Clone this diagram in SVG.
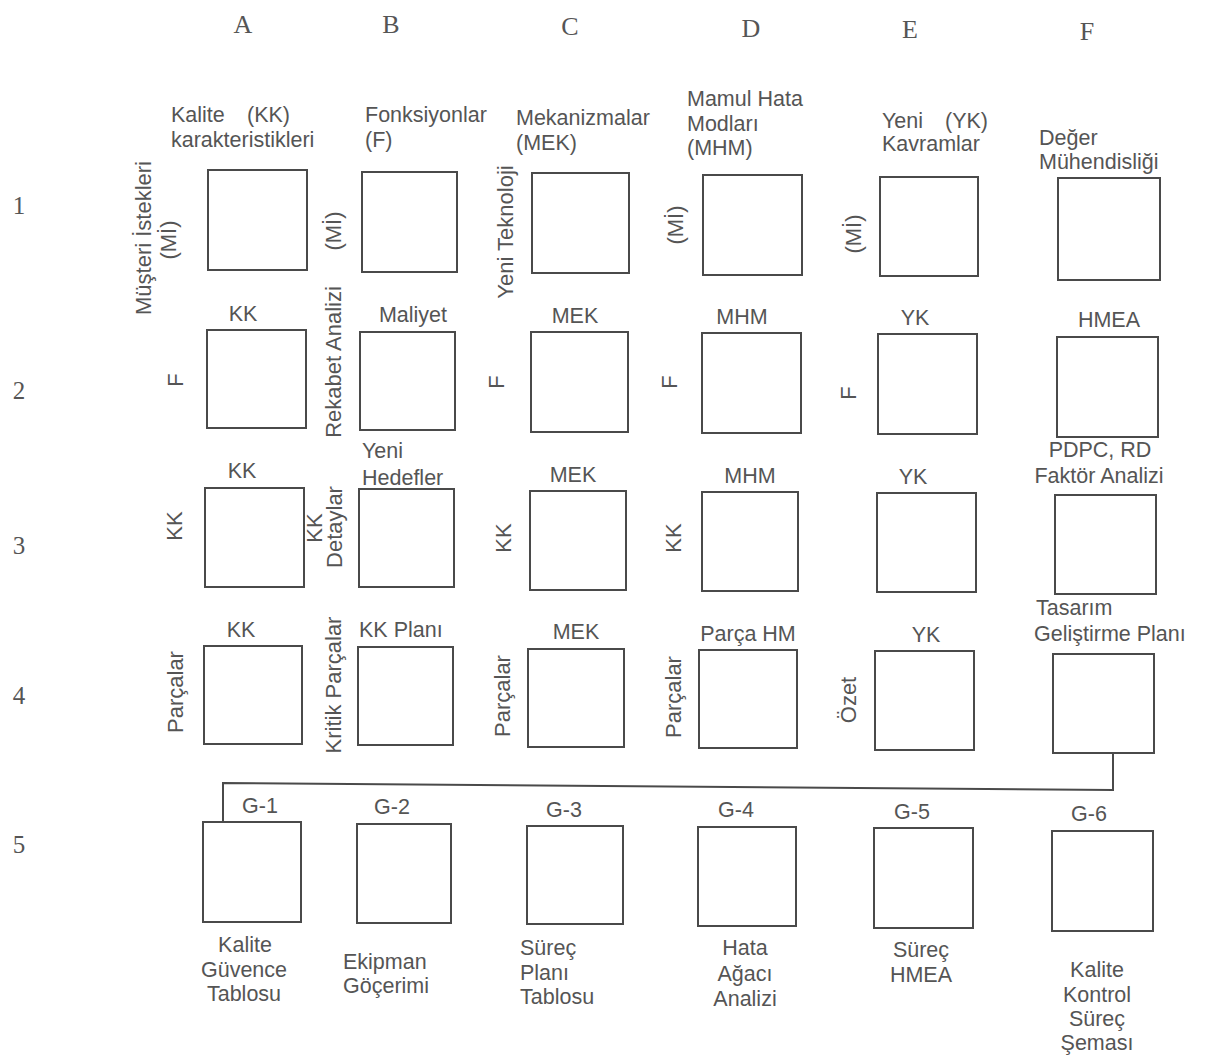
<svg xmlns="http://www.w3.org/2000/svg" width="1208" height="1057" viewBox="0 0 1208 1057">
<style>
text{font-family:"Liberation Sans",Arial,sans-serif;font-size:21.5px;fill:#555}
.m{text-anchor:middle}
.v{font-size:22px}
.hd{font-family:"Liberation Serif","Times New Roman",serif;font-size:26px;fill:#555;text-anchor:middle}
.rn{font-family:"Liberation Serif","Times New Roman",serif;font-size:25px;fill:#555;text-anchor:middle}
rect{fill:none;stroke:#4a4a4a;stroke-width:2}
.cn{fill:none;stroke:#4a4a4a;stroke-width:2}
</style>
<rect x="0" y="0" width="1208" height="1057" style="fill:#fff;stroke:none"/>
<g id="headers">
<text class="hd" x="243" y="33">A</text>
<text class="hd" x="391" y="33">B</text>
<text class="hd" x="570" y="35">C</text>
<text class="hd" x="751" y="37">D</text>
<text class="hd" x="910" y="38">E</text>
<text class="hd" x="1087" y="40">F</text>
<text class="rn" x="19" y="214">1</text>
<text class="rn" x="19" y="399">2</text>
<text class="rn" x="19" y="554">3</text>
<text class="rn" x="19" y="704">4</text>
<text class="rn" x="19" y="853">5</text>
</g>
<g id="column-titles">
<text x="171" y="122">Kalite<tspan x="247">(KK)</tspan></text>
<text x="171" y="147">karakteristikleri</text>
<text x="365" y="122">Fonksiyonlar</text>
<text x="365" y="147">(F)</text>
<text x="516" y="125">Mekanizmalar</text>
<text x="516" y="150">(MEK)</text>
<text x="687" y="106">Mamul Hata</text>
<text x="687" y="131">Modları</text>
<text x="687" y="155">(MHM)</text>
<text x="882" y="128">Yeni<tspan x="945">(YK)</tspan></text>
<text x="882" y="151">Kavramlar</text>
<text x="1039" y="145">Değer</text>
<text x="1039" y="169">Mühendisliği</text>
</g>
<g id="connectors">
<polyline class="cn" points="1113,753 1113,790 223,783 223,822"/>
</g>
<g id="node-A1"><rect x="208" y="170" width="99" height="100"/>
<text class="m v" transform="rotate(-90 151 238)" x="151" y="238">Müşteri İstekleri</text>
<text class="m v" transform="rotate(-90 176 240)" x="176" y="240">(Mİ)</text></g>
<g id="node-B1"><rect x="362" y="172" width="95" height="100"/>
<text class="m v" transform="rotate(-90 341 231)" x="341" y="231">(Mİ)</text></g>
<g id="node-C1"><rect x="532" y="173" width="97" height="100"/>
<text class="m v" transform="rotate(-90 513 232)" x="513" y="232">Yeni Teknoloji</text></g>
<g id="node-D1"><rect x="703" y="175" width="99" height="100"/>
<text class="m v" transform="rotate(-90 683 225)" x="683" y="225">(Mİ)</text></g>
<g id="node-E1"><rect x="880" y="177" width="98" height="99"/>
<text class="m v" transform="rotate(-90 861 234)" x="861" y="234">(Mİ)</text></g>
<g id="node-F1"><rect x="1058" y="178" width="102" height="102"/></g>

<g id="node-A2"><rect x="207" y="330" width="99" height="98"/>
<text class="m" x="243" y="321">KK</text>
<text class="m v" transform="rotate(-90 183 380)" x="183" y="380">F</text></g>
<g id="node-B2"><rect x="360" y="332" width="95" height="98"/>
<text class="m" x="413" y="322">Maliyet</text>
<text class="m v" transform="rotate(-90 341 362)" x="341" y="362">Rekabet Analizi</text></g>
<g id="node-C2"><rect x="531" y="332" width="97" height="100"/>
<text class="m" x="575" y="323">MEK</text>
<text class="m v" transform="rotate(-90 504 382)" x="504" y="382">F</text></g>
<g id="node-D2"><rect x="702" y="333" width="99" height="100"/>
<text class="m" x="742" y="324">MHM</text>
<text class="m v" transform="rotate(-90 677 382)" x="677" y="382">F</text></g>
<g id="node-E2"><rect x="878" y="334" width="99" height="100"/>
<text class="m" x="915" y="325">YK</text>
<text class="m v" transform="rotate(-90 856 393)" x="856" y="393">F</text></g>
<g id="node-F2"><rect x="1057" y="337" width="101" height="100"/>
<text class="m" x="1109" y="327">HMEA</text></g>

<g id="node-A3"><rect x="205" y="488" width="99" height="99"/>
<text class="m" x="242" y="478">KK</text>
<text class="m v" transform="rotate(-90 182 526)" x="182" y="526">KK</text></g>
<g id="node-B3"><rect x="359" y="489" width="95" height="98"/>
<text x="362" y="458">Yeni</text>
<text x="362" y="485">Hedefler</text>
<text class="m v" transform="rotate(-90 322 528)" x="322" y="528">KK</text>
<text class="m v" transform="rotate(-90 342 527)" x="342" y="527">Detaylar</text></g>
<g id="node-C3"><rect x="530" y="491" width="96" height="99"/>
<text class="m" x="573" y="482">MEK</text>
<text class="m v" transform="rotate(-90 511 538)" x="511" y="538">KK</text></g>
<g id="node-D3"><rect x="702" y="492" width="96" height="99"/>
<text class="m" x="750" y="483">MHM</text>
<text class="m v" transform="rotate(-90 681 538)" x="681" y="538">KK</text></g>
<g id="node-E3"><rect x="877" y="493" width="99" height="99"/>
<text class="m" x="913" y="484">YK</text></g>
<g id="node-F3"><rect x="1055" y="495" width="101" height="99"/>
<text class="m" x="1100" y="457">PDPC, RD</text>
<text class="m" x="1099" y="483">Faktör Analizi</text></g>

<g id="node-A4"><rect x="204" y="646" width="98" height="98"/>
<text class="m" x="241" y="637">KK</text>
<text class="m v" transform="rotate(-90 183 692)" x="183" y="692">Parçalar</text></g>
<g id="node-B4"><rect x="358" y="647" width="95" height="98"/>
<text x="359" y="637">KK Planı</text>
<text class="m v" transform="rotate(-90 341 685)" x="341" y="685">Kritik Parçalar</text></g>
<g id="node-C4"><rect x="528" y="649" width="96" height="98"/>
<text class="m" x="576" y="639">MEK</text>
<text class="m v" transform="rotate(-90 510 696)" x="510" y="696">Parçalar</text></g>
<g id="node-D4"><rect x="699" y="650" width="98" height="98"/>
<text class="m" x="748" y="641">Parça HM</text>
<text class="m v" transform="rotate(-90 681 697)" x="681" y="697">Parçalar</text></g>
<g id="node-E4"><rect x="875" y="651" width="99" height="99"/>
<text class="m" x="926" y="642">YK</text>
<text class="m v" transform="rotate(-90 856 700)" x="856" y="700">Özet</text></g>
<g id="node-F4"><rect x="1053" y="654" width="101" height="99"/>
<text x="1036" y="615">Tasarım</text>
<text x="1034" y="641">Geliştirme Planı</text></g>

<g id="node-A5"><rect x="203" y="822" width="98" height="100"/>
<text class="m" x="260" y="813">G-1</text>
<text class="m" x="245" y="952">Kalite</text>
<text class="m" x="244" y="977">Güvence</text>
<text class="m" x="244" y="1001">Tablosu</text></g>
<g id="node-B5"><rect x="357" y="824" width="94" height="99"/>
<text class="m" x="392" y="814">G-2</text>
<text x="343" y="969">Ekipman</text>
<text x="343" y="993">Göçerimi</text></g>
<g id="node-C5"><rect x="527" y="826" width="96" height="98"/>
<text class="m" x="564" y="817">G-3</text>
<text x="520" y="955">Süreç</text>
<text x="520" y="980">Planı</text>
<text x="520" y="1004">Tablosu</text></g>
<g id="node-D5"><rect x="698" y="827" width="98" height="99"/>
<text class="m" x="736" y="817">G-4</text>
<text class="m" x="745" y="955">Hata</text>
<text class="m" x="745" y="981">Ağacı</text>
<text class="m" x="745" y="1006">Analizi</text></g>
<g id="node-E5"><rect x="874" y="828" width="99" height="100"/>
<text class="m" x="912" y="819">G-5</text>
<text class="m" x="921" y="957">Süreç</text>
<text class="m" x="921" y="982">HMEA</text></g>
<g id="node-F5"><rect x="1052" y="831" width="101" height="100"/>
<text class="m" x="1089" y="821">G-6</text>
<text class="m" x="1097" y="977">Kalite</text>
<text class="m" x="1097" y="1002">Kontrol</text>
<text class="m" x="1097" y="1026">Süreç</text>
<text class="m" x="1097" y="1050">Şeması</text></g>
</svg>
